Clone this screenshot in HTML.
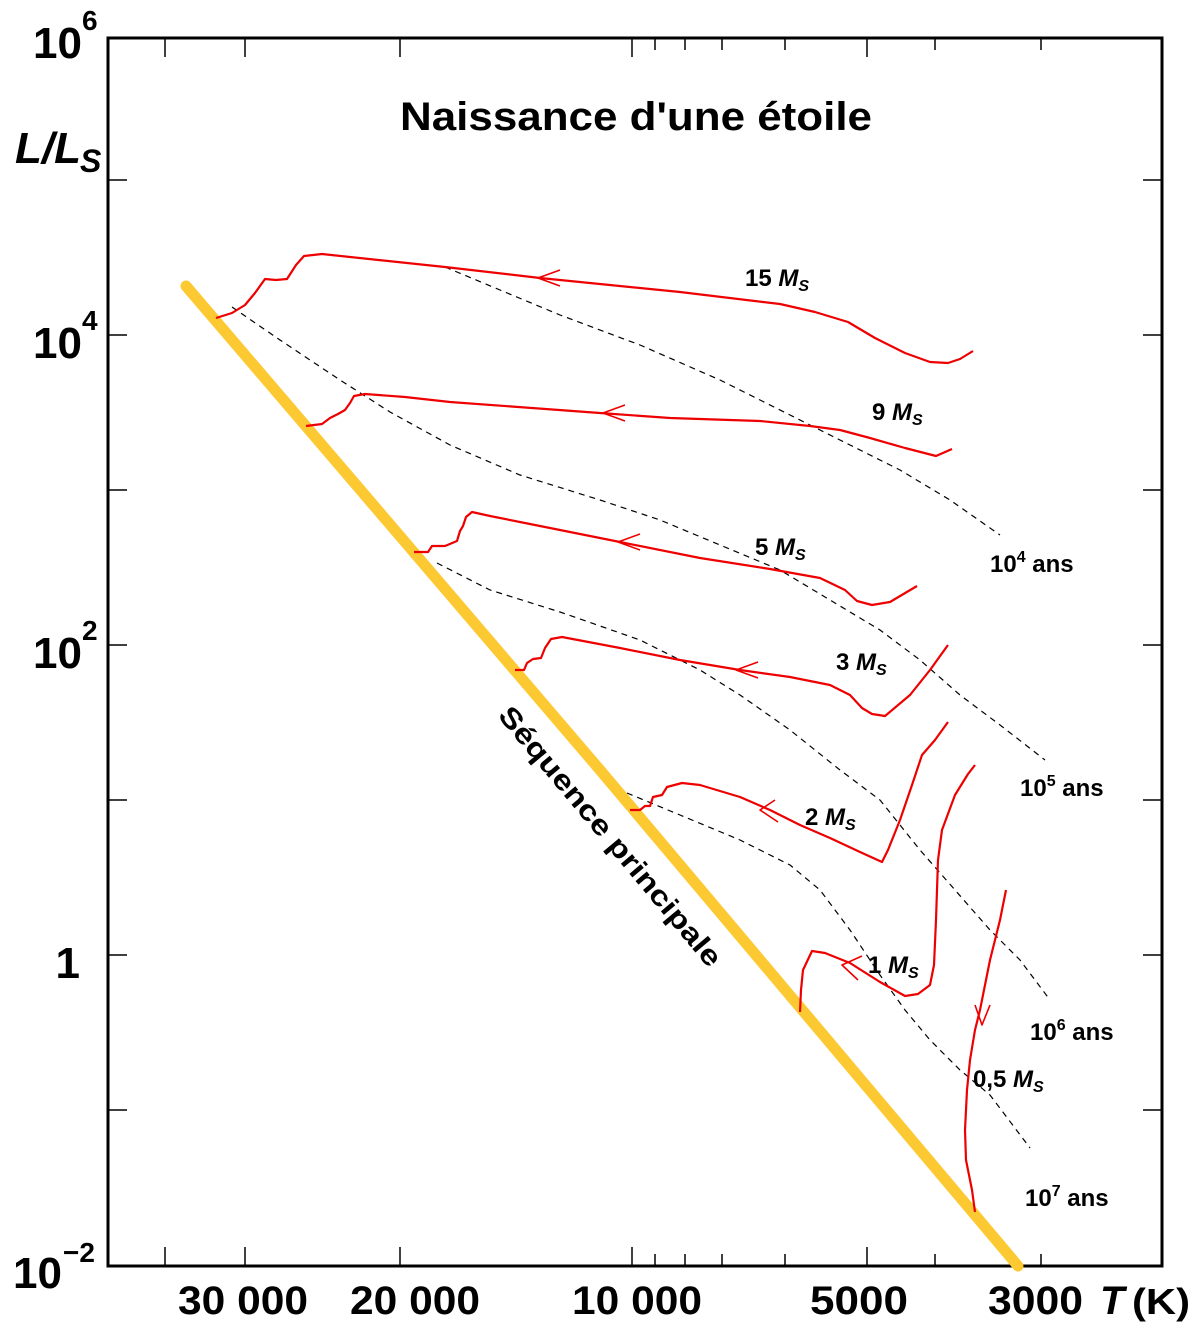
<!DOCTYPE html>
<html><head><meta charset="utf-8"><style>body{margin:0;background:#fff}svg{display:block}text{font-family:"Liberation Sans",sans-serif;font-weight:bold;fill:#000}</style></head>
<body>
<svg width="1200" height="1332" viewBox="0 0 1200 1332">
<rect x="108" y="38" width="1054" height="1228" fill="none" stroke="#000" stroke-width="3"/>
<g stroke="#000" stroke-width="1.5">
<path d="M165 1266v-19M245 1266v-19M400 1266v-19M632 1266v-19M655 1266v-12M685 1266v-12M722 1266v-12M785 1266v-12M867 1266v-19M935 1266v-12M1041 1266v-12"/>
<path d="M165 38v19M245 38v19M400 38v19M632 38v19M655 38v12M685 38v12M722 38v12M785 38v12M867 38v19M935 38v12M1041 38v12"/>
<path d="M108 180h19M108 335h19M108 490h19M108 645h19M108 800h19M108 955h19M108 1110h19"/>
<path d="M1162 180h-19M1162 335h-19M1162 490h-19M1162 645h-19M1162 800h-19M1162 955h-19M1162 1110h-19"/>
</g>
<g font-size="44" text-anchor="end">
<text x="82" y="58">10</text><text x="82" y="358">10</text><text x="82" y="668">10</text><text x="80" y="978">1</text><text x="62" y="1288">10</text>
</g>
<g font-size="28"><text x="82" y="30">6</text><text x="82" y="330">4</text><text x="82" y="640">2</text><text x="63" y="1262">−2</text></g>
<text x="15" y="163" font-size="44" font-style="italic">L/L</text><text x="80" y="172" font-size="32" font-style="italic">S</text>
<g font-size="40"><text x="178" y="1314" textLength="130" lengthAdjust="spacingAndGlyphs">30 000</text><text x="350" y="1314" textLength="130" lengthAdjust="spacingAndGlyphs">20 000</text><text x="572" y="1314" textLength="130" lengthAdjust="spacingAndGlyphs">10 000</text><text x="810" y="1314" textLength="98" lengthAdjust="spacingAndGlyphs">5000</text><text x="988" y="1314" textLength="95" lengthAdjust="spacingAndGlyphs">3000</text></g>
<text x="1100" y="1314" font-size="40" font-style="italic">T</text><text x="1132" y="1314" font-size="36" textLength="58" lengthAdjust="spacingAndGlyphs">(K)</text>
<text x="400" y="130" font-size="40" textLength="472" lengthAdjust="spacingAndGlyphs">Naissance d'une étoile</text>
<path d="M186 286L600 770L1018 1266" fill="none" stroke="#FDC932" stroke-width="11" stroke-linecap="round"/>
<g fill="none" stroke="#000" stroke-width="1.2" stroke-dasharray="6,5">
<path d="M445 267L500 290L560 315L640 345L720 380L790 415L850 445L900 470L950 500L1000 535"/>
<path d="M232 307L280 340L340 380L390 412L450 445L520 475L600 500L660 520L720 545L780 570L830 600L880 630L920 660L960 695L1000 725L1045 760"/>
<path d="M437 563L490 590L560 612L640 640L700 670L740 695L790 730L840 770L880 800L920 850L955 890L990 930L1020 960L1050 1000"/>
<path d="M627 793L680 815L740 840L790 865L820 890L850 930L880 975L905 1010L930 1040L960 1070L990 1095L1030 1148"/>
</g>
<g fill="none" stroke="#E00" stroke-width="2.2" stroke-linejoin="round">
<path d="M216 318L232 313L245 305L255 293L265 279L276 280L287 279L296 265L304 256L322 254L445 267L540 278L680 292L780 304L815 312L848 322L875 338L905 353L930 362L948 363L960 359L973 351"/>
<path d="M306 426L322 424L330 418L338 414L345 410L350 403L354 396L365 394L405 397L450 402L600 413L670 418L760 421L810 426L840 430L870 438L905 448L936 456L952 449"/>
<path d="M414 552L428 552L432 546L445 546L457 541L460 531L463 526L466 517L472 512L490 516L540 526L620 542L700 558L770 569L820 578L845 590L857 601L872 605L890 602L917 586"/>
<path d="M515 670L524 670L527 663L533 659L541 658L545 648L551 639L562 637L620 648L680 660L740 670L790 677L830 685L850 695L862 708L872 714L885 716L910 695L930 670L948 645"/>
<path d="M630 810L640 810L645 806L650 806L653 797L662 795L667 787L682 783L700 785L740 797L770 810L800 825L830 838L860 852L882 862L888 850L900 820L912 785L922 755L935 740L948 722"/>
<path d="M800 1012L801 990L803 970L812 951L825 953L850 963L880 982L905 996L918 994L930 985L934 965L936 920L938 860L942 830L955 795L968 774L975 765"/>
<path d="M975 1212L972 1190L966 1160L965 1130L967 1090L970 1060L975 1030L980 1010L990 960L1000 920L1006 890"/>
<path d="M560 270L538 278L560 286M625 405L603 413L625 421M640 534L618 542L640 550M758 662L736 670L758 678M775 800L760 810L778 822M862 956L842 965L858 980M975 1005L982 1025L990 1005" stroke-width="1.6"/>
</g>
<g font-size="24">
<text x="745" y="286">15 <tspan font-style="italic">M</tspan><tspan font-size="16" dy="5" font-style="italic">S</tspan></text>
<text x="872" y="420">9 <tspan font-style="italic">M</tspan><tspan font-size="16" dy="5" font-style="italic">S</tspan></text>
<text x="755" y="555">5 <tspan font-style="italic">M</tspan><tspan font-size="16" dy="5" font-style="italic">S</tspan></text>
<text x="836" y="670">3 <tspan font-style="italic">M</tspan><tspan font-size="16" dy="5" font-style="italic">S</tspan></text>
<text x="805" y="825">2 <tspan font-style="italic">M</tspan><tspan font-size="16" dy="5" font-style="italic">S</tspan></text>
<text x="868" y="973">1 <tspan font-style="italic">M</tspan><tspan font-size="16" dy="5" font-style="italic">S</tspan></text>
<text x="973" y="1087">0,5 <tspan font-style="italic">M</tspan><tspan font-size="16" dy="5" font-style="italic">S</tspan></text>
<text x="990" y="572">10<tspan font-size="16" dy="-10">4</tspan><tspan dy="10"> ans</tspan></text>
<text x="1020" y="796">10<tspan font-size="16" dy="-10">5</tspan><tspan dy="10"> ans</tspan></text>
<text x="1030" y="1040">10<tspan font-size="16" dy="-10">6</tspan><tspan dy="10"> ans</tspan></text>
<text x="1025" y="1206">10<tspan font-size="16" dy="-10">7</tspan><tspan dy="10"> ans</tspan></text>
</g>
<text transform="translate(497,716) rotate(50)" font-size="28" textLength="330" lengthAdjust="spacingAndGlyphs">Séquence principale</text>
</svg>
</body></html>
